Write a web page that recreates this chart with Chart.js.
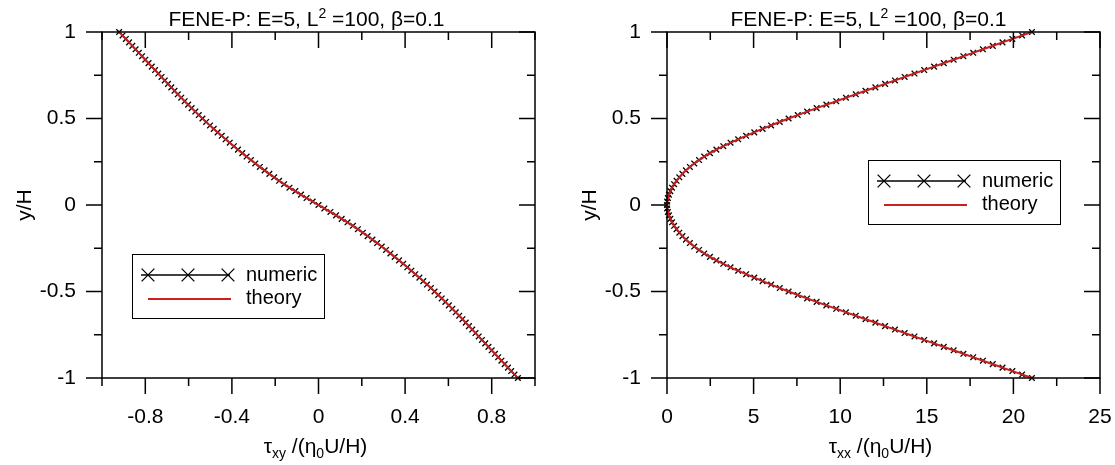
<!DOCTYPE html>
<html lang="en">
<head>
<meta charset="utf-8" />
<title>FENE-P channel flow: stress profiles</title>
<script src="https://cdn.jsdelivr.net/npm/chart.js/dist/chart.umd.min.js"></script>
<style>
  * { margin: 0; padding: 0; }
  body { background: #fff; width: 1115px; height: 465px; overflow: hidden; position: relative; }
  canvas { position: absolute; top: 0; }
  #txyChart { left: 0; }
  #txxChart { left: 558px; }
</style>
</head>
<body>
<canvas id="txyChart" width="557" height="465"></canvas>
<canvas id="txxChart" width="557" height="465"></canvas>

<script>
// wall-normal positions of the numeric solution (y/H)
const yNumeric = [
  -1.00, -0.98, -0.96, -0.94, -0.92, -0.90, -0.88, -0.86, -0.84, -0.82,
  -0.80, -0.78, -0.76, -0.74, -0.72, -0.70, -0.68, -0.66, -0.64, -0.62,
  -0.60, -0.58, -0.56, -0.54, -0.52, -0.50, -0.48, -0.46, -0.44, -0.42,
  -0.40, -0.38, -0.36, -0.34, -0.32, -0.30, -0.28, -0.26, -0.24, -0.22,
  -0.20, -0.18, -0.16, -0.14, -0.12, -0.10, -0.08, -0.06, -0.04, -0.02,
  0,
  0.02, 0.04, 0.06, 0.08, 0.10, 0.12, 0.14, 0.16, 0.18, 0.20,
  0.22, 0.24, 0.26, 0.28, 0.30, 0.32, 0.34, 0.36, 0.38, 0.40,
  0.42, 0.44, 0.46, 0.48, 0.50, 0.52, 0.54, 0.56, 0.58, 0.60,
  0.62, 0.64, 0.66, 0.68, 0.70, 0.72, 0.74, 0.76, 0.78, 0.80,
  0.82, 0.84, 0.86, 0.88, 0.90, 0.92, 0.94, 0.96, 0.98, 1.00
];

// tau_xy / (eta0 U/H), numeric
const txyNumeric = [
  0.921, 0.905, 0.890, 0.875, 0.860, 0.845, 0.830, 0.815, 0.800, 0.785,
  0.770, 0.755, 0.740, 0.725, 0.710, 0.695, 0.680, 0.665, 0.650, 0.634,
  0.618, 0.602, 0.586, 0.569, 0.553, 0.536, 0.519, 0.501, 0.484, 0.466,
  0.447, 0.429, 0.410, 0.391, 0.372, 0.352, 0.332, 0.312, 0.292, 0.271,
  0.249, 0.227, 0.205, 0.182, 0.159, 0.134, 0.107, 0.081, 0.055, 0.027,
  0,
  -0.027, -0.055, -0.081, -0.107, -0.134, -0.159, -0.182, -0.205, -0.227, -0.249,
  -0.271, -0.292, -0.312, -0.332, -0.352, -0.372, -0.391, -0.410, -0.429, -0.447,
  -0.466, -0.484, -0.501, -0.519, -0.536, -0.553, -0.569, -0.586, -0.602, -0.618,
  -0.634, -0.650, -0.665, -0.680, -0.695, -0.710, -0.725, -0.740, -0.755, -0.770,
  -0.785, -0.800, -0.815, -0.830, -0.845, -0.860, -0.875, -0.890, -0.905, -0.921
];

// tau_xx / (eta0 U/H), numeric
const txxNumeric = [
  21.07, 20.50, 19.94, 19.37, 18.81, 18.24, 17.68, 17.11, 16.55, 15.98,
  15.42, 14.85, 14.29, 13.72, 13.16, 12.59, 12.03, 11.46, 10.90, 10.33,
  9.77, 9.20, 8.64, 8.09, 7.55, 7.02, 6.51, 6.01, 5.52, 5.04,
  4.57, 4.11, 3.67, 3.25, 2.85, 2.48, 2.15, 1.85, 1.57, 1.32,
  1.09, 0.89, 0.71, 0.55, 0.41, 0.29, 0.19, 0.11, 0.05, 0.01,
  0,
  0.01, 0.05, 0.11, 0.19, 0.29, 0.41, 0.55, 0.71, 0.89, 1.09,
  1.32, 1.57, 1.85, 2.15, 2.48, 2.85, 3.25, 3.67, 4.11, 4.57,
  5.04, 5.52, 6.01, 6.51, 7.02, 7.55, 8.09, 8.64, 9.20, 9.77,
  10.33, 10.90, 11.46, 12.03, 12.59, 13.16, 13.72, 14.29, 14.85, 15.42,
  15.98, 16.55, 17.11, 17.68, 18.24, 18.81, 19.37, 19.94, 20.50, 21.07
];

// analytical profiles
const yTheory = [
  -1.00, -0.95, -0.90, -0.85, -0.80, -0.75, -0.70, -0.65, -0.60, -0.55,
  -0.50, -0.45, -0.40, -0.35, -0.30, -0.25, -0.20, -0.15, -0.10, -0.05,
  0,
  0.05, 0.10, 0.15, 0.20, 0.25, 0.30, 0.35, 0.40, 0.45, 0.50,
  0.55, 0.60, 0.65, 0.70, 0.75, 0.80, 0.85, 0.90, 0.95, 1.00
];
const txyTheory = [
  0.921, 0.883, 0.845, 0.808, 0.770, 0.733, 0.695, 0.658, 0.618, 0.578,
  0.536, 0.493, 0.447, 0.401, 0.352, 0.302, 0.249, 0.194, 0.134, 0.068,
  0,
  -0.068, -0.134, -0.194, -0.249, -0.302, -0.352, -0.401, -0.447, -0.493, -0.536,
  -0.578, -0.618, -0.658, -0.695, -0.733, -0.770, -0.808, -0.845, -0.883, -0.921
];
const txxTheory = [
  21.07, 19.65, 18.24, 16.83, 15.42, 14.00, 12.59, 11.18, 9.77, 8.36,
  7.02, 5.76, 4.57, 3.46, 2.48, 1.71, 1.09, 0.63, 0.29, 0.08,
  0,
  0.08, 0.29, 0.63, 1.09, 1.71, 2.48, 3.46, 4.57, 5.76, 7.02,
  8.36, 9.77, 11.18, 12.59, 14.00, 15.42, 16.83, 18.24, 19.65, 21.07
];

// axis ticks
const yTicks = [-1, -0.5, 0, 0.5, 1];
const yTickLabels = ['-1', '-0.5', '0', '0.5', '1'];
const yMinor = [-0.75, -0.25, 0.25, 0.75];
const txyTicks = [-0.8, -0.4, 0, 0.4, 0.8];
const txyTickLabels = ['-0.8', '-0.4', '0', '0.4', '0.8'];
const txyMinor = [-1, -0.6, -0.2, 0.2, 0.6, 1];
const txxTicks = [0, 5, 10, 15, 20, 25];
const txxTickLabels = ['0', '5', '10', '15', '20', '25'];
const txxMinor = [2.5, 7.5, 12.5, 17.5, 22.5];

const FONT = "'Liberation Sans', Arial, Helvetica, sans-serif";
const RED = '#cc1f1f';
Chart.defaults.font.family = FONT;
Chart.defaults.font.size = 21;
Chart.defaults.color = '#000';

// draws a line of text with sub/superscript pieces, centred on cx
function drawRich(ctx, parts, cx, baseline, size) {
  const small = Math.round(size * 0.66);
  const widths = parts.map(p => {
    ctx.font = `${p.sub || p.sup ? small : size}px ${FONT}`;
    return ctx.measureText(p.t).width;
  });
  let x = cx - widths.reduce((a, b) => a + b, 0) / 2;
  ctx.textAlign = 'left';
  ctx.textBaseline = 'alphabetic';
  parts.forEach((p, i) => {
    ctx.font = `${p.sub || p.sup ? small : size}px ${FONT}`;
    const dy = p.sub ? 5 : p.sup ? -8 : 0;
    ctx.fillText(p.t, x, baseline + dy);
    x += widths[i];
  });
}

// frame, tick marks (out on left/bottom, in on top/right), titles and legend
const decor = {
  id: 'decor',
  afterDatasetsDraw(chart, args, opts) {
    const { ctx, chartArea: a, scales } = chart;
    const major = 16, minor = 8;
    ctx.save();
    ctx.strokeStyle = '#000';
    ctx.lineWidth = 1.5;
    ctx.strokeRect(a.left, a.top, a.width, a.height);

    ctx.beginPath();
    const xt = (vals, len) => vals.forEach(v => {
      const px = scales.x.getPixelForValue(v);
      ctx.moveTo(px, a.bottom); ctx.lineTo(px, a.bottom + len);
      ctx.moveTo(px, a.top); ctx.lineTo(px, a.top + len);
    });
    const yt = (vals, len) => vals.forEach(v => {
      const py = scales.y.getPixelForValue(v);
      ctx.moveTo(a.left - len, py); ctx.lineTo(a.left, py);
      ctx.moveTo(a.right - len, py); ctx.lineTo(a.right, py);
    });
    xt(opts.xMajor, major); xt(opts.xMinor, minor);
    yt(yTicks, major); yt(yMinor, minor);
    ctx.stroke();

    ctx.fillStyle = '#000';
    const cx = (a.left + a.right) / 2;
    drawRich(ctx, [{ t: 'FENE-P: E=5, L' }, { t: '2', sup: true }, { t: ' =100, β=0.1' }],
      cx + opts.titleShift, 26, 21);
    drawRich(ctx, opts.xTitle, cx - 3, 453, 21);

    ctx.save();
    ctx.translate(a.left - 77, (a.top + a.bottom) / 2);
    ctx.rotate(-Math.PI / 2);
    ctx.font = `21px ${FONT}`;
    ctx.textAlign = 'center';
    ctx.textBaseline = 'middle';
    ctx.fillText('y/H', 0, 0);
    ctx.restore();

    // legend box
    const bx = a.left + opts.legend.x, by = a.top + opts.legend.y;
    const [num, th] = chart.data.datasets;
    ctx.fillStyle = '#fff';
    ctx.fillRect(bx, by, 192, 64);
    ctx.lineWidth = 1;
    ctx.strokeStyle = '#000';
    ctx.strokeRect(bx + 0.5, by + 0.5, 192, 64);

    ctx.lineWidth = 1.3;
    ctx.beginPath();
    ctx.moveTo(bx + 9, by + 21); ctx.lineTo(bx + 98, by + 21);
    ctx.stroke();
    [16, 56, 96].forEach(dx => {
      Chart.helpers.drawPoint(ctx, { pointStyle: 'crossRot', radius: 9, borderWidth: 1.6 }, bx + dx, by + 21);
    });
    ctx.strokeStyle = RED;
    ctx.lineWidth = 2;
    ctx.beginPath();
    ctx.moveTo(bx + 16, by + 45); ctx.lineTo(bx + 99, by + 45);
    ctx.stroke();

    ctx.fillStyle = '#000';
    ctx.font = `20px ${FONT}`;
    ctx.textAlign = 'left';
    ctx.textBaseline = 'middle';
    ctx.fillText(num.label, bx + 114, by + 21);
    ctx.fillText(th.label, bx + 114, by + 44);
    ctx.restore();
  }
};

// keep the plot box fixed: labels must not push the chart area around
function fixPadding(s) {
  s.paddingTop = 0;
  s.paddingBottom = 0;
  s.paddingLeft = 0;
  s.paddingRight = 0;
}

function panel(id, xs, xsTheory, xMin, xMax, xMajor, xLabels, xMinor, opts) {
  const numeric = yNumeric.map((y, i) => ({ x: xs[i], y }));
  const theory = yTheory.map((y, i) => ({ x: xsTheory[i], y }));
  return new Chart(document.getElementById(id), {
    type: 'scatter',
    data: {
      datasets: [
        {
          label: 'numeric',
          data: numeric,
          showLine: true,
          borderColor: '#000',
          borderWidth: 1,
          pointStyle: 'crossRot',
          pointRadius: 4,
          pointBorderColor: '#000',
          pointBorderWidth: 1.3,
          pointBackgroundColor: 'transparent',
          clip: 6,
          order: 2
        },
        {
          label: 'theory',
          data: theory,
          showLine: true,
          borderColor: RED,
          borderWidth: 2,
          pointRadius: 0,
          tension: 0.4,
          clip: 3,
          order: 1
        }
      ]
    },
    options: {
      responsive: false,
      animation: false,
      events: [],
      layout: { padding: { top: 32, right: opts.padRight, left: 0, bottom: 0 } },
      plugins: {
        legend: { display: false },
        tooltip: { enabled: false },
        decor: {
          xMajor, xMinor,
          xTitle: opts.xTitle,
          titleShift: opts.titleShift,
          legend: opts.legend
        }
      },
      scales: {
        x: {
          type: 'linear',
          min: xMin,
          max: xMax,
          grid: { display: false, drawTicks: false },
          border: { display: false },
          ticks: {
            padding: 27,
            autoSkip: false,
            maxRotation: 0,
            font: { size: 21 },
            callback: (v, i) => xLabels[i]
          },
          afterBuildTicks: s => { s.ticks = xMajor.map(value => ({ value })); },
          afterFit: s => { s.height = 87; fixPadding(s); }
        },
        y: {
          type: 'linear',
          min: -1,
          max: 1,
          grid: { display: false, drawTicks: false },
          border: { display: false },
          ticks: {
            padding: 26,
            autoSkip: false,
            font: { size: 21 },
            callback: (v, i) => yTickLabels[i]
          },
          afterBuildTicks: s => { s.ticks = yTicks.map(value => ({ value })); },
          afterFit: s => { s.width = opts.axisLeft; fixPadding(s); }
        }
      }
    },
    plugins: [decor]
  });
}

panel('txyChart', txyNumeric, txyTheory, -1, 1, txyTicks, txyTickLabels, txyMinor, {
  axisLeft: 102,
  padRight: 22,
  titleShift: -12,
  legend: { x: 30, y: 222 },
  xTitle: [{ t: 'τ' }, { t: 'xy', sub: true }, { t: ' /(η' }, { t: '0', sub: true }, { t: 'U/H)' }]
});

panel('txxChart', txxNumeric, txxTheory, 0, 25, txxTicks, txxTickLabels, txxMinor, {
  axisLeft: 109,
  padRight: 15,
  titleShift: -15,
  legend: { x: 201, y: 128 },
  xTitle: [{ t: 'τ' }, { t: 'xx', sub: true }, { t: ' /(η' }, { t: '0', sub: true }, { t: 'U/H)' }]
});
</script>
</body>
</html>
